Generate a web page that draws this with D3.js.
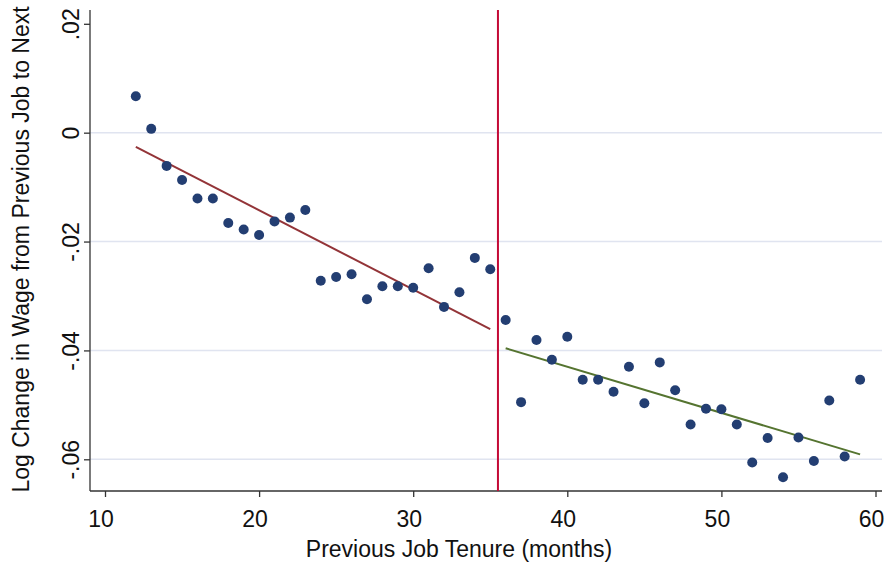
<!DOCTYPE html>
<html>
<head>
<meta charset="utf-8">
<script src="https://cdn.jsdelivr.net/npm/d3@7"></script>
<style>
  body { margin: 0; background: #fff; }
  text { font-family: "Liberation Sans", Arial, sans-serif; fill: #111; }
</style>
</head>
<body>
<svg id="chart"></svg>
<script>
// previous job tenure (months) and mean log wage change, binned
const tenure = [12, 13, 14, 15, 16, 17, 18, 19, 20, 21, 22, 23, 24, 25, 26, 27, 28, 29, 30, 31, 32, 33, 34, 35,
                36, 37, 38, 39, 40, 41, 42, 43, 44, 45, 46, 47, 48, 49, 50, 51, 52, 53, 54, 55, 56, 57, 58, 59];
const wageChange = [0.0067, 0.0007, -0.0061, -0.0087, -0.0121, -0.0121, -0.0166, -0.0178, -0.0188, -0.0163, -0.0156, -0.0142,
                    -0.0272, -0.0265, -0.0260, -0.0306, -0.0282, -0.0282, -0.0285, -0.0249, -0.0320, -0.0293, -0.0230, -0.0251,
                    -0.0344, -0.0495, -0.0381, -0.0417, -0.0375, -0.0454, -0.0454, -0.0476, -0.0430, -0.0497, -0.0422, -0.0473,
                    -0.0536, -0.0507, -0.0508, -0.0536, -0.0606, -0.0561, -0.0633, -0.0560, -0.0603, -0.0492, -0.0595, -0.0454];

// linear fits either side of the cutoff (endpoints)
const fitLeftX = [12, 35];
const fitLeftY = [-0.0026, -0.0361];
const fitRightX = [36, 59];
const fitRightY = [-0.0396, -0.0591];
const cutoff = 35.5;

const xTicks = [10, 20, 30, 40, 50, 60];
const yTicks = [0.02, 0, -0.02, -0.04, -0.06];
const yTickLabels = [".02", "0", "-.02", "-.04", "-.06"];
const yGrid = [0, -0.02, -0.04, -0.06];

const W = 888, H = 566;
const pLeft = 90, pRight = 882, pTop = 10, pBottom = 491;
const fs = 23;

const svg = d3.select("#chart").attr("width", W).attr("height", H);

const x = d3.scaleLinear().domain([10, 60]).range([105, 875.5]);
const y = d3.scaleLinear().domain([0.02, -0.06]).range([23.8, 459.3]);

// gridlines
svg.append("g").selectAll("line").data(yGrid).join("line")
  .attr("x1", pLeft).attr("x2", pRight)
  .attr("y1", d => y(d)).attr("y2", d => y(d))
  .attr("stroke", "#e0e4f0").attr("stroke-width", 1.5);

// axes
const xAxis = svg.append("g").attr("transform", `translate(0,${pBottom})`)
  .call(d3.axisBottom(x).tickValues(xTicks).tickSize(6).tickPadding(14).tickFormat(d3.format("d")));
xAxis.select(".domain").attr("d", `M${pLeft},0H${pRight}`);

const yAxis = svg.append("g").attr("transform", `translate(${pLeft},0)`)
  .call(d3.axisLeft(y).tickValues(yTicks).tickSize(6).tickFormat((d, i) => yTickLabels[i]));
yAxis.select(".domain").attr("d", `M0,${pTop}V${pBottom}`);

[xAxis, yAxis].forEach(a => {
  a.selectAll(".domain, .tick line").attr("stroke", "#333").attr("stroke-width", 1.3);
  a.selectAll("text").attr("font-size", fs).attr("font-family", "Liberation Sans, Arial, sans-serif").attr("fill", "#111");
});
xAxis.selectAll(".tick text").attr("x", -4.5);
yAxis.selectAll(".tick text")
  .attr("x", 0).attr("dy", 0).attr("text-anchor", "middle")
  .attr("transform", "translate(-11,0) rotate(-90)");

// cutoff line
svg.append("line")
  .attr("x1", x(cutoff)).attr("x2", x(cutoff))
  .attr("y1", pTop).attr("y2", pBottom)
  .attr("stroke", "#c40a36").attr("stroke-width", 2);

// fit lines
const line = d3.line().x(d => x(d[0])).y(d => y(d[1]));
svg.append("path").attr("d", line(d3.zip(fitLeftX, fitLeftY)))
  .attr("fill", "none").attr("stroke", "#933438").attr("stroke-width", 2);
svg.append("path").attr("d", line(d3.zip(fitRightX, fitRightY)))
  .attr("fill", "none").attr("stroke", "#557430").attr("stroke-width", 2);

// points
svg.append("g").selectAll("circle").data(d3.zip(tenure, wageChange)).join("circle")
  .attr("cx", d => x(d[0])).attr("cy", d => y(d[1])).attr("r", 5)
  .attr("fill", "#233e72");

// axis titles
svg.append("text")
  .attr("x", 459).attr("y", 557)
  .attr("text-anchor", "middle").attr("font-size", fs)
  .text("Previous Job Tenure (months)");

svg.append("text")
  .attr("transform", `translate(29,${(pTop + pBottom) / 2 - 1}) rotate(-90)`)
  .attr("text-anchor", "middle").attr("font-size", fs)
  .text("Log Change in Wage from Previous Job to Next");
</script>
</body>
</html>
